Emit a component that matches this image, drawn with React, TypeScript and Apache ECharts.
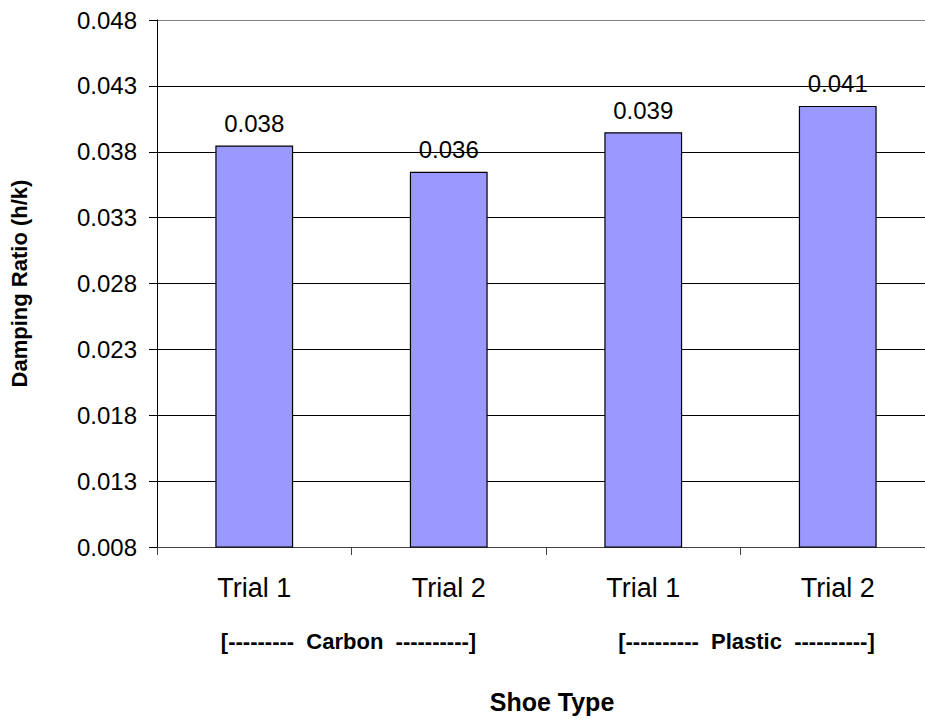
import { useEffect, useRef } from "react";
import * as echarts from "echarts";

// Damping ratio (h/k) measured for two shoe types, two trials each
const categories = ["Trial 1", "Trial 2", "Trial 1", "Trial 2"];
const dampingRatio = [0.03848, 0.03648, 0.03948, 0.04148];
const shoeGroups = ["Carbon", "Plastic"];
const groupDashes = [
  [9, 10],
  [10, 10],
];
const yMin = 0.008;
const yMax = 0.048;
const yStep = 0.005;

const FONT = 'Arial, "Liberation Sans", Helvetica, sans-serif';
const NB = "\u00a0";

function groupLabel(name: string, dashes: number[]) {
  return `[${"-".repeat(dashes[0])}${NB}${NB}${name}${NB}${NB}${"-".repeat(dashes[1])}]`;
}

// small horizontal nudges for the group captions
const captionNudge = [-3, 6];

export default function App() {
  const ref = useRef<HTMLDivElement>(null);

  useEffect(() => {
    if (!ref.current) return;
    const chart = echarts.init(ref.current, undefined, { renderer: "svg" });

    const tickCount = Math.round((yMax - yMin) / yStep) + 1;
    const splitColors = Array.from({ length: tickCount }, (_, i) =>
      i === tickCount - 1 ? "#808080" : "#000000"
    );

    chart.setOption({
      animation: false,
      backgroundColor: "#ffffff",
      textStyle: { fontFamily: FONT },
      grid: { left: 156, right: 25, top: 20, bottom: 170, containLabel: false },
      xAxis: {
        type: "category",
        data: categories,
        name: "Shoe Type",
        nameLocation: "middle",
        nameGap: 142,
        nameTextStyle: {
          fontFamily: FONT,
          fontSize: 25,
          fontWeight: "bold",
          color: "#000",
          padding: [0, 0, 0, 12],
        },
        axisLine: { lineStyle: { color: "#404040", width: 1 } },
        axisTick: { show: true, length: 8, alignWithLabel: false, lineStyle: { color: "#404040" } },
        axisLabel: { fontSize: 27, color: "#000", margin: 27, fontFamily: FONT },
        splitLine: { show: false },
      },
      yAxis: {
        type: "value",
        min: yMin,
        max: yMax,
        interval: yStep,
        name: "Damping Ratio (h/k)",
        nameLocation: "middle",
        nameGap: 127,
        nameTextStyle: { fontFamily: FONT, fontSize: 22, fontWeight: "bold", color: "#000" },
        axisLine: { show: true, lineStyle: { color: "#000", width: 1 } },
        axisTick: { show: true, length: 8, lineStyle: { color: "#000" } },
        axisLabel: {
          fontSize: 24,
          color: "#000",
          margin: 20,
          fontFamily: FONT,
          formatter: (v: number) => v.toFixed(3),
        },
        splitLine: { show: true, lineStyle: { color: splitColors, width: 1 } },
      },
      series: [
        {
          type: "bar",
          data: dampingRatio,
          barCategoryGap: "60%",
          itemStyle: { color: "#9999ff", borderColor: "#000", borderWidth: 1.2 },
          label: {
            show: true,
            position: "top",
            distance: 10,
            fontSize: 24,
            color: "#000",
            fontFamily: FONT,
            formatter: (p: any) => Number(p.value).toFixed(3),
          },
        },
      ],
    });

    // Group captions centred under each pair of trials
    const graphics = shoeGroups.map((name, g) => {
      const a = chart.convertToPixel({ xAxisIndex: 0 }, g * 2) as number;
      const b = chart.convertToPixel({ xAxisIndex: 0 }, g * 2 + 1) as number;
      return {
        type: "text",
        x: (a + b) / 2 + captionNudge[g],
        y: 641,
        style: {
          text: groupLabel(name, groupDashes[g]),
          fontFamily: FONT,
          fontSize: 22,
          fontWeight: "bold",
          fill: "#000",
          align: "center",
          verticalAlign: "middle",
        },
      };
    });
    chart.setOption({ graphic: graphics });

    return () => chart.dispose();
  }, []);

  return (
    <div
      style={{
        position: "fixed",
        left: 0,
        top: 0,
        width: 925,
        height: 719,
        overflow: "hidden",
        background: "#fff",
      }}
    >
      <div ref={ref} style={{ width: 960, height: 719 }} />
    </div>
  );
}
